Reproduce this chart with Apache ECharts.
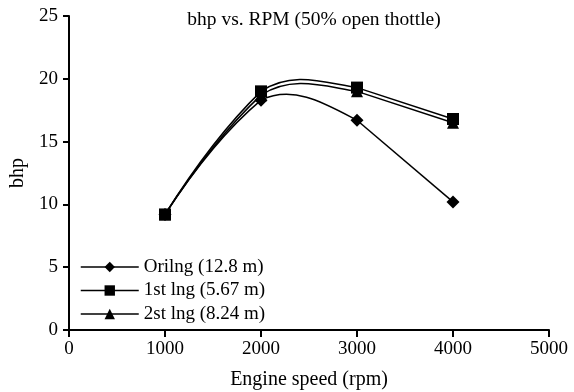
<!DOCTYPE html>
<html>
<head>
<meta charset="utf-8">
<script src="https://cdn.jsdelivr.net/npm/echarts@6/dist/echarts.min.js"></script>
<style>
  html, body { margin: 0; padding: 0; background: #fff; }
  #chart { width: 574px; height: 392px; }
</style>
</head>
<body>
<div id="chart"></div>
<script>
// engine speed (rpm)
const rpm = [1000, 2000, 3000, 4000];

// bhp per configuration
const orilng = [9.2, 18.3, 16.7, 10.2];
const lng1st = [9.2, 19.0, 19.3, 16.8];
const lng2st = [9.2, 18.7, 19.0, 16.5];

const seriesNames = ['Orilng (12.8 m)', '1st lng (5.67 m)', '2st lng (8.24 m)'];

const font = '"Liberation Serif", "Times New Roman", serif';
const fs = 19;

const chart = echarts.init(document.getElementById('chart'));

// slopes at each point (data units), central difference inside
function tangents(values) {
  const n = values.length;
  const m = [];
  for (let i = 0; i < n; i++) {
    const a = Math.max(0, i - 1);
    const b = Math.min(n - 1, i + 1);
    m.push((values[b] - values[a]) / (rpm[b] - rpm[a]));
  }
  return m;
}

// smooth curve through the points, drawn segment by segment
const makeCurve = (name, values) => {
  const m = tangents(values);
  return {
    name,
    type: 'custom',
    z: 2,
    silent: true,
    encode: { x: 0, y: 1 },
    data: rpm.map((x, i) => [x, values[i]]),
    renderItem(params, api) {
      const i = params.dataIndex;
      if (i >= rpm.length - 1) return null;
      const x0 = rpm[i], x1 = rpm[i + 1];
      const y0 = values[i], y1 = values[i + 1];
      const p0 = api.coord([x0, y0]);
      const p1 = api.coord([x1, y1]);
      const style = { stroke: '#000', lineWidth: 1.5, fill: null };
      // last piece is a straight line in the original
      if (i === rpm.length - 2) {
        return { type: 'line', shape: { x1: p0[0], y1: p0[1], x2: p1[0], y2: p1[1] }, style };
      }
      const dx = (x1 - x0) / 3;
      const chord = (y1 - y0) / (x1 - x0);
      let ms = m[i], me = m[i + 1];
      if (i === 0) {
        me = (chord + m[i + 1]) / 2;
        ms = 2 * chord - me;
      }
      const c1 = api.coord([x0 + dx, y0 + ms * dx]);
      const c2 = api.coord([x1 - dx, y1 - me * dx]);
      return {
        type: 'bezierCurve',
        shape: {
          x1: p0[0], y1: p0[1], x2: p1[0], y2: p1[1],
          cpx1: c1[0], cpy1: c1[1], cpx2: c2[0], cpy2: c2[1],
        },
        style,
      };
    },
  };
};

// markers (line hidden, the curve above draws it)
const makeMarks = (name, values, symbol, size) => ({
  name,
  type: 'line',
  z: 3,
  symbol,
  symbolSize: size,
  data: rpm.map((x, i) => [x, values[i]]),
  lineStyle: { color: '#000', width: 1.5, opacity: 0 },
  itemStyle: { color: '#000' },
});

chart.setOption({
  animation: false,
  textStyle: { fontFamily: font },
  title: {
    text: 'bhp vs. RPM (50% open thottle)',
    left: 309,
    top: 5,
    textAlign: 'center',
    textStyle: { fontFamily: font, fontSize: 19.5, fontWeight: 'normal', color: '#000' },
  },
  legend: {
    orient: 'vertical',
    left: 75,
    top: 252,
    itemWidth: 58,
    itemHeight: 13,
    itemGap: 3.5,
    lineStyle: { color: '#000', width: 1.5, opacity: 1 },
    textStyle: { fontFamily: font, fontSize: fs, lineHeight: 20, color: '#000' },
    data: seriesNames,
  },
  grid: { left: 69, right: 25, top: 16, bottom: 62, containLabel: false, outerBoundsMode: 'none' },
  xAxis: {
    type: 'value',
    min: 0,
    max: 5000,
    interval: 1000,
    name: 'Engine speed (rpm)',
    nameLocation: 'middle',
    nameGap: 40,
    nameTextStyle: { fontFamily: font, fontSize: 20, color: '#000' },
    axisLine: { lineStyle: { color: '#000', width: 2 } },
    axisTick: { length: 7, lineStyle: { color: '#000', width: 2 } },
    axisLabel: { fontFamily: font, fontSize: fs, color: '#000', margin: 10, formatter: (v) => String(v) },
    splitLine: { show: false },
  },
  yAxis: {
    type: 'value',
    min: 0,
    max: 25,
    interval: 5,
    name: 'bhp',
    nameLocation: 'middle',
    nameGap: 41,
    nameTextStyle: { fontFamily: font, fontSize: 20, color: '#000' },
    axisLine: { show: true, lineStyle: { color: '#000', width: 2 } },
    axisTick: { show: true, length: 6, lineStyle: { color: '#000', width: 2 } },
    axisLabel: { fontFamily: font, fontSize: fs, color: '#000', margin: 11 },
    splitLine: { show: false },
  },
  series: [
    makeMarks(seriesNames[0], orilng, 'diamond', 13),
    makeMarks(seriesNames[1], lng1st, 'rect', 12),
    makeMarks(seriesNames[2], lng2st, 'triangle', 12),
    makeCurve(seriesNames[0], orilng),
    makeCurve(seriesNames[1], lng1st),
    makeCurve(seriesNames[2], lng2st),
  ],
});
</script>
</body>
</html>
